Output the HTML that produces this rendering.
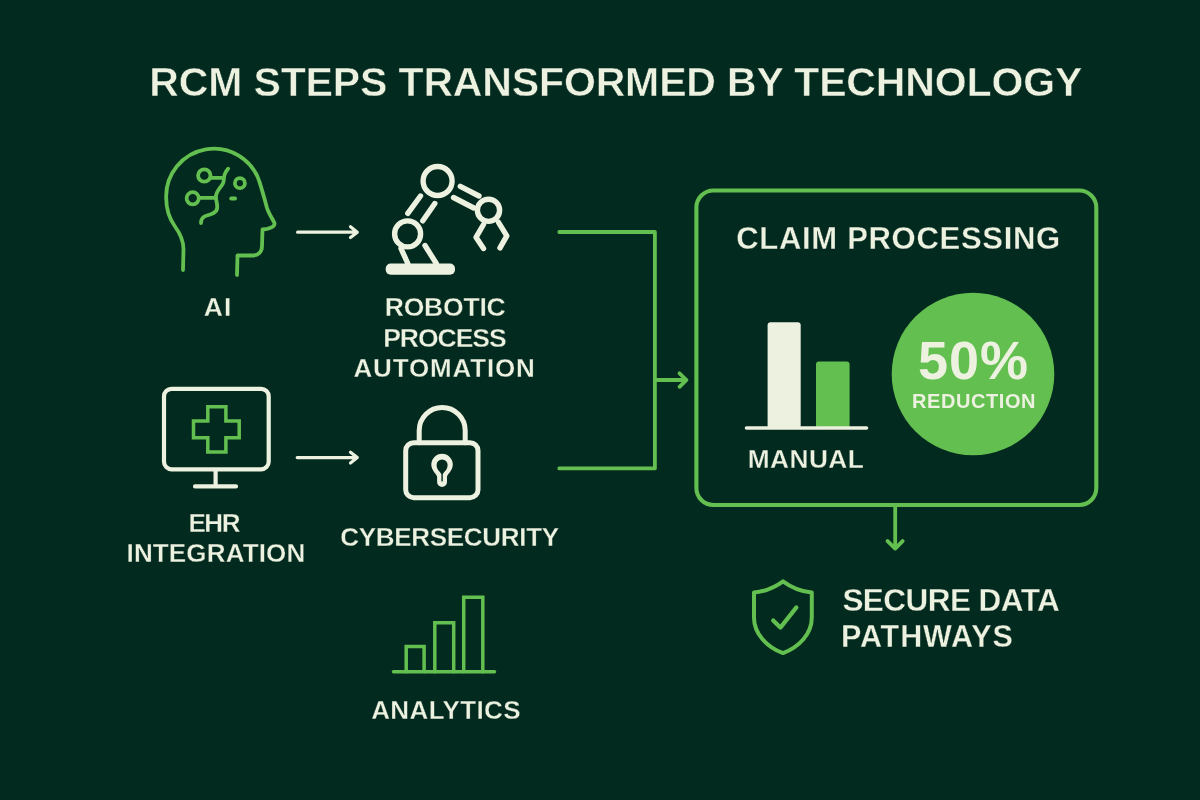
<!DOCTYPE html>
<html><head><meta charset="utf-8"><title>RCM Steps Transformed by Technology</title>
<style>
html,body{margin:0;padding:0;background:#022a1e;}
body{width:1200px;height:800px;overflow:hidden;font-family:"Liberation Sans",sans-serif;}
svg{display:block;will-change:transform;}
text{font-family:"Liberation Sans",sans-serif;font-weight:bold;}
</style></head>
<body>
<svg width="1200" height="800" viewBox="0 0 1200 800">
<rect width="1200" height="800" fill="#022a1e"/>

<!-- connectors -->
<g fill="none" stroke="#63bf4f" stroke-width="3.8" stroke-linecap="round" stroke-linejoin="round">
  <path d="M559.3 232 H654.9 V468.4 H559.3"/>
  <path d="M654.9 380 H686 M679.5 373.3 L686.5 380 L679.5 386.8"/>
  <rect x="696.4" y="190.5" width="399.9" height="314.5" rx="17" stroke-width="4.1"/>
  <path d="M895.2 507 V548 M887.6 541.1 L895.2 548.6 L902.6 541.1"/>
</g>
<!-- white arrows -->
<g fill="none" stroke="#ecf1e0" stroke-width="3.2" stroke-linecap="round" stroke-linejoin="round">
  <path d="M297.6 232.2 H357 M350.5 226.8 L357.3 232.2 L350.5 237.6"/>
  <path d="M297.2 457.6 H357 M350.5 452.2 L357.3 457.6 L350.5 463"/>
</g>
<!-- AI head -->
<g fill="none" stroke="#63bf4f" stroke-width="3.8" stroke-linecap="round" stroke-linejoin="round">
  <path d="M183 270 L183.5 249 C183.5 239 179 232 175 226.5 C170 219.5 166.2 211 166.2 198 A47.8 47.8 0 0 1 259.5 181.85 C262 190 265 200 267 208 C268.5 213 272 218 274.5 223 C275 226 271 228 267 228.8 L262.5 229.5 L262 246 C262 252 258 255.5 252 255.5 L237.5 255.5 L237 275"/>
  <circle cx="204.3" cy="175.5" r="6.2"/>
  <circle cx="192.7" cy="198.3" r="6.1"/>
  <circle cx="239.9" cy="183.2" r="5"/>
  <path d="M210.5 177.9 H223.7"/>
  <path d="M198.8 197.8 H215.9"/>
  <path d="M228.1 168.7 Q223.7 173.5 223.7 180.5 C223.7 186 216 189.5 215.9 197 C215.9 201 217.5 203 217.2 207.5 C217 213 211 214.5 207 215.5 C203 216.5 201 219 201 223"/>
  <path d="M231.2 198.5 H235.1"/>
</g>
<!-- Robot arm -->
<g fill="none" stroke="#ecf1e0" stroke-width="5.4" stroke-linecap="round" stroke-linejoin="round">
  <rect x="385.7" y="263.5" width="69.3" height="11.3" rx="5" fill="#ecf1e0" stroke="none"/>
  <circle cx="407.6" cy="233.9" r="13"/>
  <circle cx="437.6" cy="181" r="14.5"/>
  <circle cx="488.5" cy="210.3" r="11.1"/>
  <path d="M407.8 213.3 L420.5 196 M422.8 220.8 L434.8 203.5"/>
  <path d="M460.3 186.3 L479 196 M453.5 197.5 L473.8 208"/>
  <path d="M401 248.5 L407.8 263.5 M425 245.5 L436.3 263.5"/>
  <path d="M483.5 224.5 L476 237.3 L483.5 248.5 M498.5 222.3 L506.8 235.8 L500 247.8"/>
</g>
<!-- Monitor -->
<g fill="none" stroke="#ecf1e0" stroke-width="4.2" stroke-linecap="round" stroke-linejoin="round">
  <rect x="164" y="388.8" width="104.7" height="80.5" rx="7.5"/>
  <path d="M215.6 470 V486.4 M195 486.4 H236"/>
</g>
<path d="M207.8 406.8 H225.9 V421 H239.2 V437.7 H225.9 V452 H207.8 V437.7 H193.5 V421 H207.8 Z" fill="none" stroke="#63bf4f" stroke-width="3.5" stroke-linejoin="miter"/>
<!-- Lock -->
<g fill="none" stroke="#ecf1e0" stroke-width="5" stroke-linecap="round" stroke-linejoin="round">
  <rect x="405.7" y="442.7" width="72.3" height="55" rx="8"/>
  <path d="M419.2 442.7 V430.5 A23 23 0 0 1 465.2 430.5 V442.7"/>
  <path fill="#ecf1e0" stroke="none" fill-rule="evenodd" d="M437.1 482 V477 C437.1 474.5 431.3 471 431.3 464.6 A10.75 10.75 0 0 1 452.8 464.6 C452.8 471 447 474.5 447 477 V482 A4.95 4.95 0 0 1 437.1 482 Z M441.4 480.9 V474.5 C441.4 472.5 436.6 470.5 436.6 465 A5.5 5.5 0 0 1 447.6 465 C447.6 470.5 442.8 472.5 442.8 474.5 V480.9 A0.7 0.7 0 0 1 441.4 480.9 Z"/>
</g>
<!-- Analytics -->
<g fill="none" stroke="#63bf4f" stroke-width="3.5" stroke-linecap="round" stroke-linejoin="miter">
  <path d="M393.5 671.8 H494.5"/>
  <path d="M406.2 671.8 V646.5 H424.1 V671.8"/>
  <path d="M434.8 671.8 V622.7 H453.7 V671.8"/>
  <path d="M463.7 671.8 V597.2 H482.8 V671.8"/>
</g>
<!-- Panel content -->
<rect x="767.6" y="322.3" width="33.1" height="106" rx="3" fill="#ecf1e0"/>
<rect x="816" y="361.6" width="33.6" height="66.7" rx="3" fill="#63bf4f"/>
<path d="M746.5 428 H866.5" stroke="#ecf1e0" stroke-width="3.6" stroke-linecap="round"/>
<circle cx="973" cy="374" r="81.3" fill="#63bf4f"/>
<!-- Shield -->
<g fill="none" stroke="#63bf4f" stroke-width="4" stroke-linecap="round" stroke-linejoin="round">
  <path d="M783 581.3 C774 588 764 591.5 754 592.6 V617.5 C754 634 767 647 783 653.1 C799 647 811.8 634 811.8 617.5 V592.6 C802 591.5 792 588 783 581.3 Z"/>
  <path d="M773.2 620.5 L780.4 627.6 L796.4 607.4" stroke-width="4.2"/>
</g>

<text x="149.3" y="95.8" font-size="41" letter-spacing="-0.14" fill="#ecf1e0" stroke="#022a1e" stroke-width="0.5">RCM STEPS TRANSFORMED BY TECHNOLOGY</text>
<text x="203.7" y="315.8" font-size="26.5" letter-spacing="1.06" fill="#ecf1e0" stroke="#022a1e" stroke-width="0.3">AI</text>
<text x="384.8" y="315.8" font-size="26.5" letter-spacing="-0.22" fill="#ecf1e0" stroke="#022a1e" stroke-width="0.3">ROBOTIC</text>
<text x="383.2" y="346.5" font-size="26.5" letter-spacing="-1.02" fill="#ecf1e0" stroke="#022a1e" stroke-width="0.3">PROCESS</text>
<text x="353.5" y="376.6" font-size="26" letter-spacing="0.83" fill="#ecf1e0" stroke="#022a1e" stroke-width="0.3">AUTOMATION</text>
<text x="188.4" y="531.9" font-size="26" letter-spacing="-1.41" fill="#ecf1e0" stroke="#022a1e" stroke-width="0.3">EHR</text>
<text x="126.5" y="561.9" font-size="26" letter-spacing="0.16" fill="#ecf1e0" stroke="#022a1e" stroke-width="0.3">INTEGRATION</text>
<text x="340.2" y="546.1" font-size="26" letter-spacing="-0.30" fill="#ecf1e0" stroke="#022a1e" stroke-width="0.3">CYBERSECURITY</text>
<text x="371.2" y="718.5" font-size="26" letter-spacing="0.37" fill="#ecf1e0" stroke="#022a1e" stroke-width="0.3">ANALYTICS</text>
<text x="736.2" y="249.4" font-size="31" letter-spacing="0.70" fill="#ecf1e0" stroke="#022a1e" stroke-width="0.3">CLAIM PROCESSING</text>
<text x="747.7" y="468.3" font-size="26.3" letter-spacing="0.45" fill="#ecf1e0" stroke="#022a1e" stroke-width="0.3">MANUAL</text>
<text x="918.0" y="379.0" font-size="54" letter-spacing="0.97" fill="#ecf1e0">50%</text>
<text x="912.0" y="407.6" font-size="20" letter-spacing="0.57" fill="#ecf1e0">REDUCTION</text>
<text x="842.4" y="611.0" font-size="31.5" letter-spacing="-0.55" fill="#ecf1e0" stroke="#022a1e" stroke-width="0.3">SECURE DATA</text>
<text x="841.0" y="646.6" font-size="30.5" letter-spacing="0.89" fill="#ecf1e0" stroke="#022a1e" stroke-width="0.3">PATHWAYS</text>
</svg>
</body></html>
